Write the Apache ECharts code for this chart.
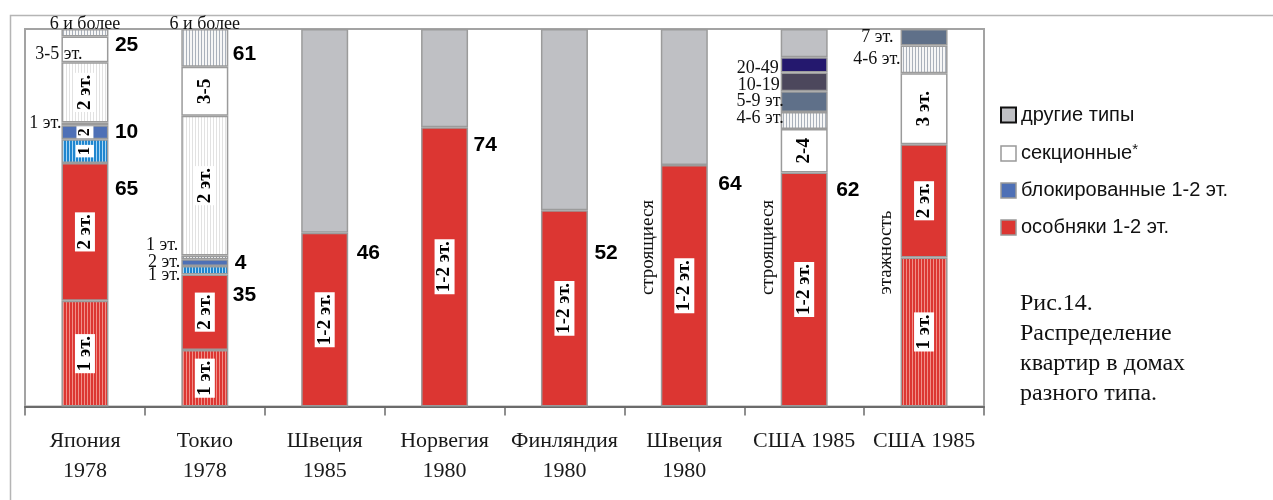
<!DOCTYPE html>
<html>
<head>
<meta charset="utf-8">
<script src="https://cdn.jsdelivr.net/npm/echarts@6/dist/echarts.min.js"></script>
<style>
  html, body { margin: 0; padding: 0; background: #fff; }
  #chart { width: 1273px; height: 500px; }
</style>
</head>
<body>
<div id="chart"></div>
<script>
  // категории (столбцы)
  var categories = ['Япония\n1978', 'Токио\n1978', 'Швеция\n1985', 'Норвегия\n1980',
                    'Финляндия\n1980', 'Швеция\n1980', 'США 1985', 'США 1985'];

  // особняки 1-2 эт.
  var osob1 = [28, 15, null, null, null, null, null, 39.5];          // 1 эт. (штриховка)
  var osob2 = [36.5, 20, 46, 74, 52, 64, 62, 30];                    // 2 эт. / 1-2 эт.
  // блокированные 1-2 эт.
  var blok1 = [6.3, 2.2, null, null, null, null, null, null];        // 1 эт.
  var blok2 = [3.7, 1.8, null, null, null, null, null, null];        // 2 эт.
  // секционные
  var sect1 = [0.7, 1, null, null, null, null, null, null];          // 1 эт.
  var sect2 = [16, 37, null, null, null, null, null, null];          // 2 эт.
  var sect3 = [6.8, 13, null, null, null, null, 11.5, 18.8];         // 3-5 / 2-4 / 3 эт.
  var sect4 = [2, 10, null, null, null, null, 4.5, 7.3];             // 6 и более / 4-6 эт.
  var sect5 = [null, null, null, null, null, null, 5.5, 4.4];        // 5-9 эт. / 7 эт.
  var sect6 = [null, null, null, null, null, null, 5, null];         // 10-19
  var sect7 = [null, null, null, null, null, null, 4, null];         // 20-49
  // другие типы
  var other = [null, null, 54, 26, 48, 36, 7.5, null];

  // подписи сегментов
  var osob1Text = ['1 эт.', '1 эт.', '', '', '', '', '', '1 эт.'];
  var osob2Text = ['2 эт.', '2 эт.', '1-2 эт.', '1-2 эт.', '1-2 эт.', '1-2 эт.', '1-2 эт.', '2 эт.'];
  var blok1Text = ['1', '1 эт.', '', '', '', '', '', ''];
  var blok2Text = ['2', '2 эт.', '', '', '', '', '', ''];
  var sect1Text = ['1 эт.', '1 эт.', '', '', '', '', '', ''];
  var sect2Text = ['2 эт.', '2 эт.', '', '', '', '', '', ''];
  var sect3Text = ['3-5 эт.', '3-5', '', '', '', '', '2-4', '3 эт.'];
  var sect4Text = ['6 и более', '6 и более', '', '', '', '', '4-6 эт.', '4-6 эт.'];
  var sect5Text = ['', '', '', '', '', '', '5-9 эт.', '7 эт.'];
  var sect6Text = ['', '', '', '', '', '', '10-19', ''];
  var sect7Text = ['', '', '', '', '', '', '20-49', ''];

  // итоговые проценты по группам
  var osobTotal = [65, 35, 46, 74, 52, 64, 62, null];
  var blokTotal = [10, 4, null, null, null, null, null, null];
  var sectTotal = [25, 61, null, null, null, null, null, null];

  var notes = [
    {cat: 5, text: 'строящиеся'},
    {cat: 6, text: 'строящиеся'},
    {cat: 7, text: 'этажность'}
  ];

  var SERIF = '"Liberation Serif", "DejaVu Serif", serif';
  var SANS = '"Liberation Sans", Arial, sans-serif';

  function hatch(bg, fg, step, lw) {
    var c = document.createElement('canvas');
    c.width = step; c.height = 4;
    var g = c.getContext('2d');
    g.fillStyle = bg; g.fillRect(0, 0, step, 4);
    g.fillStyle = fg; g.fillRect(0, 0, lw, 4);
    return {image: c, repeat: 'repeat'};
  }

  var RED = '#dc3632';
  var GRAY = '#bfc0c4';
  var BLUE = '#4e70b6';

  // размещение подписей
  function inLab(size) {
    return {show: true, position: 'inside', rotate: 90, fontFamily: SERIF, fontWeight: 'bold',
            fontSize: size || 19, color: '#000', backgroundColor: '#fff', padding: [1, 2, 0, 2]};
  }
  function leftLab(dx, dy) {
    return {show: true, position: [dx, '50%'], offset: [0, dy], align: 'right', verticalAlign: 'middle',
            fontFamily: SERIF, fontSize: 18, color: '#111'};
  }
  function topLab(dy) {
    return {show: true, position: ['50%', dy], align: 'center', verticalAlign: 'middle',
            fontFamily: SERIF, fontSize: 18, color: '#111'};
  }
  var N = null;
  var osob1Pos = [inLab(), inLab(), N, N, N, N, N, inLab()];
  var osob2Pos = [inLab(), inLab(), inLab(), inLab(), inLab(), inLab(), inLab(), inLab()];
  var blok1Pos = [inLab(17), leftLab(-1, 5), N, N, N, N, N, N];
  var blok2Pos = [inLab(16), leftLab(-1, 0), N, N, N, N, N, N];
  var sect1Pos = [leftLab(0, -1), leftLab(-3, -12), N, N, N, N, N, N];
  var sect2Pos = [inLab(), inLab(), N, N, N, N, N, N];
  var sect3Pos = [leftLab(21, 5), inLab(), N, N, N, N, inLab(), inLab()];
  var sect4Pos = [topLab(-5), topLab(-5), N, N, N, N, leftLab(3, -2), leftLab(0, 0)];
  var sect5Pos = [N, N, N, N, N, N, leftLab(3, 0), leftLab(-7, 0)];
  var sect6Pos = [N, N, N, N, N, N, leftLab(-1, 3), N];
  var sect7Pos = [N, N, N, N, N, N, leftLab(-2, 3), N];

  var osobLabelPos = [[30, 26], [28, 21], [32, 20], [29, 18], [30, 43], [34, 19], [32, 18], N];
  var blokLabelPos = [[30, 7], [30, 4]];
  var sectLabelPos = [[30, 16], [28, 25]];
  var notePos = [[-36, -159], [-36, -159], [-38, -154]];

  function seg(name, values, color, texts, places) {
    return {
      name: name,
      type: 'bar',
      stack: 'all',
      barWidth: 47,
      itemStyle: {color: color, borderColor: '#9b9b9b', borderWidth: 1.5},
      data: values.map(function (v, i) {
        if (v == null) return '-';
        var lab = places[i] ? Object.assign({formatter: texts[i]}, places[i]) : {show: false};
        return {value: v, label: lab};
      })
    };
  }

  function sum(arrs, i) {
    var s = 0;
    arrs.forEach(function (a) { s += a[i] || 0; });
    return s;
  }

  var points = [];
  categories.forEach(function (c, i) {
    var osobTop = sum([osob1, osob2], i);
    var blokTop = osobTop + sum([blok1, blok2], i);
    var sectTop = blokTop + sum([sect1, sect2, sect3, sect4, sect5, sect6, sect7], i);
    if (osobTotal[i] != null) points.push({value: [i, osobTop], label: {formatter: String(osobTotal[i]), position: osobLabelPos[i]}});
    if (blokTotal[i] != null) points.push({value: [i, blokTop], label: {formatter: String(blokTotal[i]), position: blokLabelPos[i]}});
    if (sectTotal[i] != null) points.push({value: [i, sectTop], label: {formatter: String(sectTotal[i]), position: sectLabelPos[i]}});
  });
  var notePoints = notes.map(function (n, k) {
    return {value: [n.cat, 0], label: {formatter: n.text, position: notePos[k]}};
  });

  var series = [
    seg('особняки 1-2 эт.', osob1, hatch(RED, '#f08f88', 3, 1), osob1Text, osob1Pos),
    seg('особняки 1-2 эт.', osob2, RED, osob2Text, osob2Pos),
    seg('блокированные 1-2 эт.', blok1, hatch('#1f86cf', '#a9d6f3', 3, 1), blok1Text, blok1Pos),
    seg('блокированные 1-2 эт.', blok2, BLUE, blok2Text, blok2Pos),
    seg('секционные*', sect1, hatch('#ffffff', '#8f98a4', 3, 1), sect1Text, sect1Pos),
    seg('секционные*', sect2, hatch('#ffffff', '#e2e2e2', 3, 1), sect2Text, sect2Pos),
    seg('секционные*', sect3, '#ffffff', sect3Text, sect3Pos),
    seg('секционные*', sect4, hatch('#f6f6f6', '#aab1bb', 3, 1), sect4Text, sect4Pos),
    seg('секционные*', sect5, '#5f7089', sect5Text, sect5Pos),
    seg('секционные*', sect6, '#4c475c', sect6Text, sect6Pos),
    seg('секционные*', sect7, '#24186e', sect7Text, sect7Pos),
    seg('другие типы', other, GRAY, [], []),
    {
      type: 'scatter', symbolSize: 0, silent: true, z: 5,
      itemStyle: {color: '#000', opacity: 1},
      label: {show: true, align: 'left', verticalAlign: 'middle', fontFamily: SANS,
              fontWeight: 'bold', fontSize: 21, color: '#000', opacity: 1, textBorderWidth: 0},
      data: points
    },
    {
      type: 'scatter', symbolSize: 0, silent: true, z: 5,
      itemStyle: {color: '#000', opacity: 1},
      label: {show: true, rotate: 90, align: 'center', verticalAlign: 'middle', fontFamily: SERIF,
              fontSize: 19, color: '#111', opacity: 1, textBorderWidth: 0},
      data: notePoints
    }
  ];

  var chart = echarts.init(document.getElementById('chart'));
  chart.setOption({
    animation: false,
    backgroundColor: '#fff',
    textStyle: {fontFamily: SANS},
    title: {
      text: 'Рис.14.\nРаспределение\nквартир в домах\nразного типа.',
      left: 1020, top: 289, padding: 0,
      textStyle: {fontFamily: SERIF, fontSize: 24, fontWeight: 'normal', lineHeight: 30, color: '#111'}
    },
    legend: {
      orient: 'vertical', left: 1000, top: 105, padding: 0,
      itemWidth: 15, itemHeight: 15, itemGap: 17, selectedMode: false,
      icon: 'rect',
      textStyle: {fontFamily: SANS, fontSize: 20, lineHeight: 20, color: '#111',
                  rich: {s: {fontSize: 15, padding: [0, 0, 8, 0], fontFamily: SANS, color: '#111'}}},
      formatter: function (name) {
        return name === 'секционные*' ? 'секционные{s|*}' : name;
      },
      data: [
        {name: 'другие типы', itemStyle: {color: GRAY, borderColor: '#111', borderWidth: 2}},
        {name: 'секционные*', itemStyle: {color: '#fff', borderColor: '#999', borderWidth: 1.5}},
        {name: 'блокированные 1-2 эт.', itemStyle: {color: BLUE, borderColor: '#999', borderWidth: 1.5}},
        {name: 'особняки 1-2 эт.', itemStyle: {color: RED, borderColor: '#999', borderWidth: 1.5}}
      ]
    },
    grid: {
      left: 25, right: 289, top: 29, bottom: 93.5,
      show: true, borderColor: '#a3a3a3', borderWidth: 2, backgroundColor: 'rgba(0,0,0,0)'
    },
    xAxis: {
      type: 'category',
      data: categories,
      axisLine: {show: true, lineStyle: {color: '#6b6b6b', width: 2}},
      axisTick: {show: true, interval: 0, alignWithLabel: false, inside: false, length: 9,
                 lineStyle: {color: '#6b6b6b', width: 1.5}},
      axisLabel: {interval: 0, margin: 20, fontFamily: SERIF, fontSize: 22, lineHeight: 30, color: '#1a1a1a'}
    },
    yAxis: {type: 'value', min: 0, max: 100, show: false},
    graphic: [{
      type: 'polyline', silent: true, z: -1,
      shape: {points: [[10.5, 500], [10.5, 15.5], [1273, 15.5]]},
      style: {stroke: '#b5b5b5', lineWidth: 1.5, fill: null}
    }],
    series: series
  });
</script>
</body>
</html>
